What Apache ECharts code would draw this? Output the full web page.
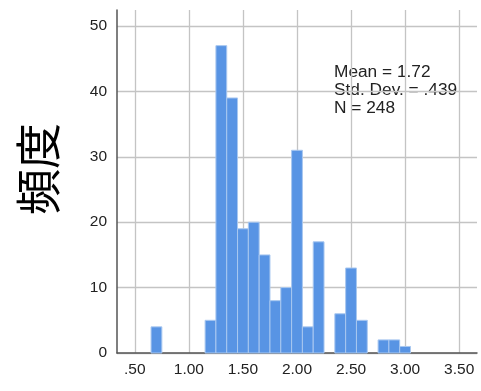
<!DOCTYPE html>
<html>
<head>
<meta charset="utf-8">
<script src="https://cdn.jsdelivr.net/npm/echarts@6/dist/echarts.min.js"></script>
<style>
  html, body { margin: 0; padding: 0; background: #fff; }
  #chart { width: 481px; height: 391px; }
</style>
</head>
<body>
<div id="chart"></div>
<script>
// histogram bins (center of each 0.1 wide bin) and counts
var binWidth = 0.1;
var binCenters = [0.7, 1.2, 1.3, 1.4, 1.5, 1.6, 1.7, 1.8, 1.9, 2.0, 2.1, 2.2, 2.4, 2.5, 2.6, 2.8, 2.9, 3.0];
var counts     = [4,   5,   47,  39,  19,  20,  15,  8,   10,  31,  4,   17,  6,   13,  5,   2,   2,   1];
var xTicks = [0.5, 1.0, 1.5, 2.0, 2.5, 3.0, 3.5];
var yTicks = [0, 10, 20, 30, 40, 50];
var statsLines = ['Mean = 1.72', 'Std. Dev. = .439', 'N = 248'];

var histData = binCenters.map(function (c, i) { return [c, counts[i]]; });

function fmtTick(v) {
  var s = v.toFixed(2);
  return s.charAt(0) === '0' ? s.slice(1) : s;
}

var chart = echarts.init(document.getElementById('chart'));

chart.setOption({
  animation: false,
  grid: { left: 117, right: 4, top: 10, bottom: 38 },
  xAxis: {
    type: 'value',
    min: 0.335,
    max: 3.665,
    axisLine: { show: true, onZero: false, lineStyle: { color: '#555', width: 1.5 } },
    axisTick: { show: false, customValues: xTicks },
    axisLabel: {
      customValues: xTicks,
      formatter: fmtTick,
      color: '#222',
      fontFamily: 'Liberation Sans',
      fontSize: 15.5,
      margin: 9
    },
    splitLine: { show: true, lineStyle: { color: '#c4c4c4', width: 1.3 } }
  },
  yAxis: {
    type: 'value',
    min: 0,
    max: 52.45,
    axisLine: { show: true, lineStyle: { color: '#555', width: 1.5 } },
    axisTick: { show: false, customValues: yTicks },
    axisLabel: {
      customValues: yTicks,
      color: '#222',
      fontFamily: 'Liberation Sans',
      fontSize: 15.5,
      margin: 10
    },
    splitLine: { show: true, lineStyle: { color: '#c4c4c4', width: 1.3 } }
  },
  graphic: [
    {
      type: 'text',
      x: 38,
      y: 169,
      rotation: Math.PI / 2,
      style: {
        text: '頻度',
        fontFamily: 'Noto Sans CJK JP',
        fontSize: 46,
        fill: '#000',
        align: 'center',
        verticalAlign: 'middle'
      }
    },
    {
      type: 'text',
      left: 334,
      top: 63,
      style: {
        text: statsLines.join('\n'),
        fontFamily: 'Liberation Sans',
        fontSize: 17.3,
        lineHeight: 18,
        fill: '#222'
      }
    }
  ],
  series: [{
    type: 'custom',
    data: histData,
    renderItem: function (params, api) {
      var c = api.value(0);
      var n = api.value(1);
      var p0 = api.coord([c - binWidth / 2, n]);
      var p1 = api.coord([c + binWidth / 2, 0]);
      return {
        type: 'rect',
        shape: { x: p0[0], y: p0[1], width: p1[0] - p0[0], height: p1[1] - p0[1] },
        style: { fill: '#5894e4', stroke: '#a9c8f0', lineWidth: 1 }
      };
    }
  }]
});
</script>
</body>
</html>
